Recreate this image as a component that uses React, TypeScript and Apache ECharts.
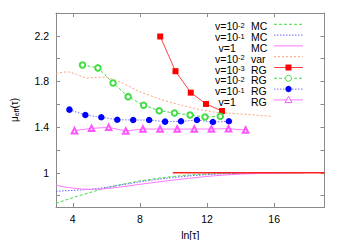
import React, { useEffect, useRef } from "react";
import * as echarts from "echarts";

// ---- data ----
const mcGreenX = [3, 4, 5, 6, 7, 8, 9, 10, 11, 12, 13, 14, 15, 16, 17, 17.8];
const mcGreenY = [0.733, 0.782, 0.826, 0.868, 0.9, 0.928, 0.95, 0.968, 0.981, 0.99, 0.995, 0.998, 0.999, 1.0, 1.0, 1.0];

const mcBlueX = [3, 4, 5, 6, 7, 8, 9, 10, 11, 12, 13, 14, 15, 16, 17, 17.8];
const mcBlueY = [0.838, 0.845, 0.854, 0.872, 0.896, 0.921, 0.941, 0.958, 0.973, 0.984, 0.991, 0.995, 0.998, 0.999, 1.0, 1.0];

const mcMagentaX = [3, 3.5, 4, 4.5, 5, 5.5, 6, 7, 8, 9, 10, 11, 12, 13, 14, 15, 16, 17, 17.8];
const mcMagentaY = [0.892, 0.876, 0.866, 0.858, 0.855, 0.856, 0.861, 0.878, 0.899, 0.918, 0.936, 0.953, 0.968, 0.98, 0.988, 0.994, 0.997, 0.999, 1.0];

const varX = [3, 3.7, 4.2, 4.8, 5.4, 6.0, 6.5, 7.0, 7.5, 8.1, 8.7, 9.3, 10.0, 10.6, 11.5, 12.5, 13.5, 14.5, 15.8];
const varY = [1.872, 1.886, 1.864, 1.828, 1.837, 1.837, 1.814, 1.785, 1.745, 1.703, 1.672, 1.64, 1.61, 1.588, 1.556, 1.53, 1.52, 1.51, 1.495];

const rgRedX = [9.21, 10.12, 11.03, 11.94, 12.89];
const rgRedY = [2.194, 1.89, 1.702, 1.603, 1.541];

const rgGreenX = [4.58, 5.5, 6.4, 7.3, 8.22, 9.15, 10.06, 10.99, 11.88, 12.79];
const rgGreenY = [1.945, 1.919, 1.787, 1.667, 1.591, 1.544, 1.524, 1.506, 1.488, 1.495];

const rgBlueX = [3.8, 4.75, 5.7, 6.65, 7.6, 8.55, 9.5, 10.45, 11.4, 12.35, 13.3];
const rgBlueY = [1.553, 1.506, 1.486, 1.465, 1.462, 1.462, 1.448, 1.451, 1.462, 1.445, 1.451];

const rgMagentaX = [4.1, 5.12, 6.14, 7.16, 8.18, 9.2, 10.22, 11.24, 12.26, 13.28, 14.3];
const rgMagentaY = [1.369, 1.389, 1.398, 1.366, 1.383, 1.383, 1.383, 1.383, 1.383, 1.386, 1.375];

const limitX = [9.96, 19];
const limitY = [1.0, 1.0];

const xTicks = [4, 8, 12, 16];
const yTicks = [0.8, 1.0, 1.2, 1.4, 1.6, 1.8, 2.0, 2.2];
const yLabels = [1.0, 1.4, 1.8, 2.2];

// legend entries: value part, exponent (or ""), method
const legendV = ["v=10", "v=10", "v=1", "v=10", "v=10", "v=10", "v=10", "v=1"];
const legendExp = ["-2", "-1", "", "-2", "-3", "-2", "-1", ""];
const legendMethod = ["MC", "MC", "MC", "var", "RG", "RG", "RG", "RG"];

const FONT = "'Liberation Sans', Arial, Helvetica, sans-serif";
const GRAY = "#8a8a8a";

// styles per legend entry / series
const styles = [
  { color: "#44dd44", dash: [3, 2] as any, symbol: "none" },
  { color: "#6666ff", dash: [1.5, 1.5] as any, symbol: "none" },
  { color: "#ff77ff", dash: null as any, symbol: "none" },
  { color: "#ffa07a", dash: [2, 2] as any, symbol: "none" },
  { color: "#ff4444", dash: null as any, symbol: "rect", mark: "#ff0000" },
  { color: "#44dd44", dash: [3, 2] as any, symbol: "emptyCircle", mark: "#44dd44" },
  { color: "#7777ff", dash: [1.5, 1.5] as any, symbol: "circle", mark: "#0000ff" },
  { color: "#ff77ff", dash: null as any, symbol: "emptyTriangle", mark: "#ff55ff" },
];

function zip(xs: number[], ys: number[]) {
  return xs.map((x, i) => [x, ys[i]]);
}

function legendGraphics() {
  const els: any[] = [];
  const rich = {
    a: { fontFamily: FONT, fontSize: 10.5, lineHeight: 10, fill: "#000" },
    s: { fontFamily: FONT, fontSize: 7.5, lineHeight: 4, verticalAlign: "top", fill: "#000" },
  };
  for (let i = 0; i < legendV.length; i++) {
    const cy = 24.3 + 10.8 * i;
    const st = styles[i];
    const isOne = legendExp[i] === "";
    els.push({
      type: "text",
      x: isOne ? 218.5 : 215,
      y: cy + 2,
      silent: true,
      style: {
        text: isOne ? `{a|${legendV[i]}}` : `{a|${legendV[i]}}{s|${legendExp[i]}}`,
        rich,
        align: "left",
        verticalAlign: "middle",
        fill: "#000",
        fontFamily: FONT,
        fontSize: 10.5,
      },
    });
    els.push({
      type: "text",
      x: 251,
      y: cy + 2,
      silent: true,
      style: {
        text: legendMethod[i],
        align: "left",
        verticalAlign: "middle",
        fill: "#000",
        fontFamily: FONT,
        fontSize: 10.5,
      },
    });
    els.push({
      type: "line",
      silent: true,
      shape: { x1: 274, y1: cy, x2: 303, y2: cy },
      style: { stroke: st.color, lineWidth: 1, lineDash: st.dash || undefined },
    });
    const cx = 288.5;
    if (st.symbol === "rect") {
      els.push({ type: "rect", silent: true, shape: { x: cx - 3, y: cy - 3, width: 6, height: 6 }, style: { fill: st.mark } });
    } else if (st.symbol === "emptyCircle") {
      els.push({ type: "circle", silent: true, shape: { cx, cy, r: 3 }, style: { fill: "#fff", stroke: st.mark, lineWidth: 1 } });
    } else if (st.symbol === "circle") {
      els.push({ type: "circle", silent: true, shape: { cx, cy, r: 3.2 }, style: { fill: st.mark } });
    } else if (st.symbol === "emptyTriangle") {
      els.push({
        type: "polygon",
        silent: true,
        shape: { points: [[cx, cy - 3.5], [cx + 3.5, cy + 2.5], [cx - 3.5, cy + 2.5]] },
        style: { fill: "#fff", stroke: st.mark, lineWidth: 1 },
      });
    }
  }
  return els;
}

export default function App() {
  const ref = useRef<HTMLDivElement>(null);

  useEffect(() => {
    if (!ref.current) return;
    const chart = echarts.init(ref.current, undefined, { renderer: "svg" });

    const tickCommon = (values: number[]) => ({
      show: true,
      inside: true,
      length: 4,
      customValues: values,
      lineStyle: { color: GRAY, width: 1 },
    });

    const mkLine = (i: number, xs: number[], ys: number[], extra: any = {}) => {
      const st = styles[i];
      const base: any = {
        name: `s${i}`,
        type: "line",
        data: zip(xs, ys),
        color: st.mark || st.color,
        lineStyle: { color: st.color, width: 1, type: st.dash || "solid" },
        symbol: st.symbol,
        z: st.symbol === "none" ? 2 : 5,
      };
      return Object.assign(base, extra);
    };

    const option: any = {
      animation: false,
      backgroundColor: "#ffffff",
      textStyle: { fontFamily: FONT },
      grid: {
        left: 56,
        right: 18.5,
        top: 13,
        bottom: 33,
        containLabel: false,
        outerBoundsMode: "none",
      },
      xAxis: [
        {
          type: "value",
          min: 3,
          max: 19,
          position: "bottom",
          axisLine: { show: true, onZero: false, lineStyle: { color: GRAY, width: 1 } },
          axisTick: tickCommon(xTicks),
          axisLabel: {
            show: true,
            customValues: xTicks,
            margin: 6,
            color: "#000",
            fontSize: 10.5,
            fontFamily: FONT,
          },
          splitLine: { show: false },
          name: "ln[τ]",
          nameLocation: "middle",
          nameGap: 22,
          nameTextStyle: { color: "#000", fontSize: 10.5, fontFamily: FONT },
        },
        {
          type: "value",
          min: 3,
          max: 19,
          position: "top",
          axisLine: { show: true, onZero: false, lineStyle: { color: GRAY, width: 1 } },
          axisTick: tickCommon(xTicks),
          axisLabel: { show: false },
          splitLine: { show: false },
        },
      ],
      yAxis: [
        {
          type: "value",
          min: 0.7,
          max: 2.4,
          position: "left",
          axisLine: { show: true, onZero: false, lineStyle: { color: GRAY, width: 1 } },
          axisTick: tickCommon(yTicks),
          axisLabel: {
            show: true,
            customValues: yLabels,
            margin: 7,
            color: "#000",
            fontSize: 10.5,
            fontFamily: FONT,
            formatter: (v: number) => String(Number(v.toFixed(1))),
          },
          splitLine: { show: false },
          name: "{m|μ}{s|eff}{m|(τ)}",
          nameLocation: "middle",
          nameRotate: 90,
          nameGap: 36,
          nameTextStyle: {
            color: "#000",
            fontFamily: FONT,
            rich: {
              m: { fontSize: 10, lineHeight: 12, fontFamily: FONT, color: "#000" },
              s: { fontSize: 7, lineHeight: 4, verticalAlign: "bottom", fontFamily: FONT, color: "#000" },
            },
          },
        },
        {
          type: "value",
          min: 0.7,
          max: 2.4,
          position: "right",
          axisLine: { show: true, onZero: false, lineStyle: { color: GRAY, width: 1 } },
          axisTick: tickCommon(yTicks),
          axisLabel: { show: false },
          splitLine: { show: false },
        },
      ],
      graphic: legendGraphics(),
      series: [
        mkLine(0, mcGreenX, mcGreenY),
        mkLine(1, mcBlueX, mcBlueY),
        mkLine(2, mcMagentaX, mcMagentaY),
        mkLine(3, varX, varY),
        {
          name: "limit",
          type: "line",
          data: zip(limitX, limitY),
          symbol: "none",
          color: "#ff2222",
          lineStyle: { color: "#ff2222", width: 1.5 },
          z: 4,
        },
        mkLine(4, rgRedX, rgRedY, { symbolSize: 6, itemStyle: { color: "#ff0000" } }),
        mkLine(5, rgGreenX, rgGreenY, {
          symbolSize: 5.5,
          itemStyle: { color: "#44dd44", borderColor: "#44dd44", borderWidth: 1 },
        }),
        mkLine(6, rgBlueX, rgBlueY, { symbolSize: 6.5, itemStyle: { color: "#0000ff" } }),
        mkLine(7, rgMagentaX, rgMagentaY, {
          symbolSize: 5.5,
          itemStyle: { color: "#ff55ff", borderColor: "#ff55ff", borderWidth: 1 },
        }),
      ],
    };

    chart.setOption(option);
    return () => {
      chart.dispose();
    };
  }, []);

  return (
    <div
      ref={ref}
      style={{ position: "fixed", left: 0, top: 0, width: 343, height: 240, background: "#fff" }}
    />
  );
}
